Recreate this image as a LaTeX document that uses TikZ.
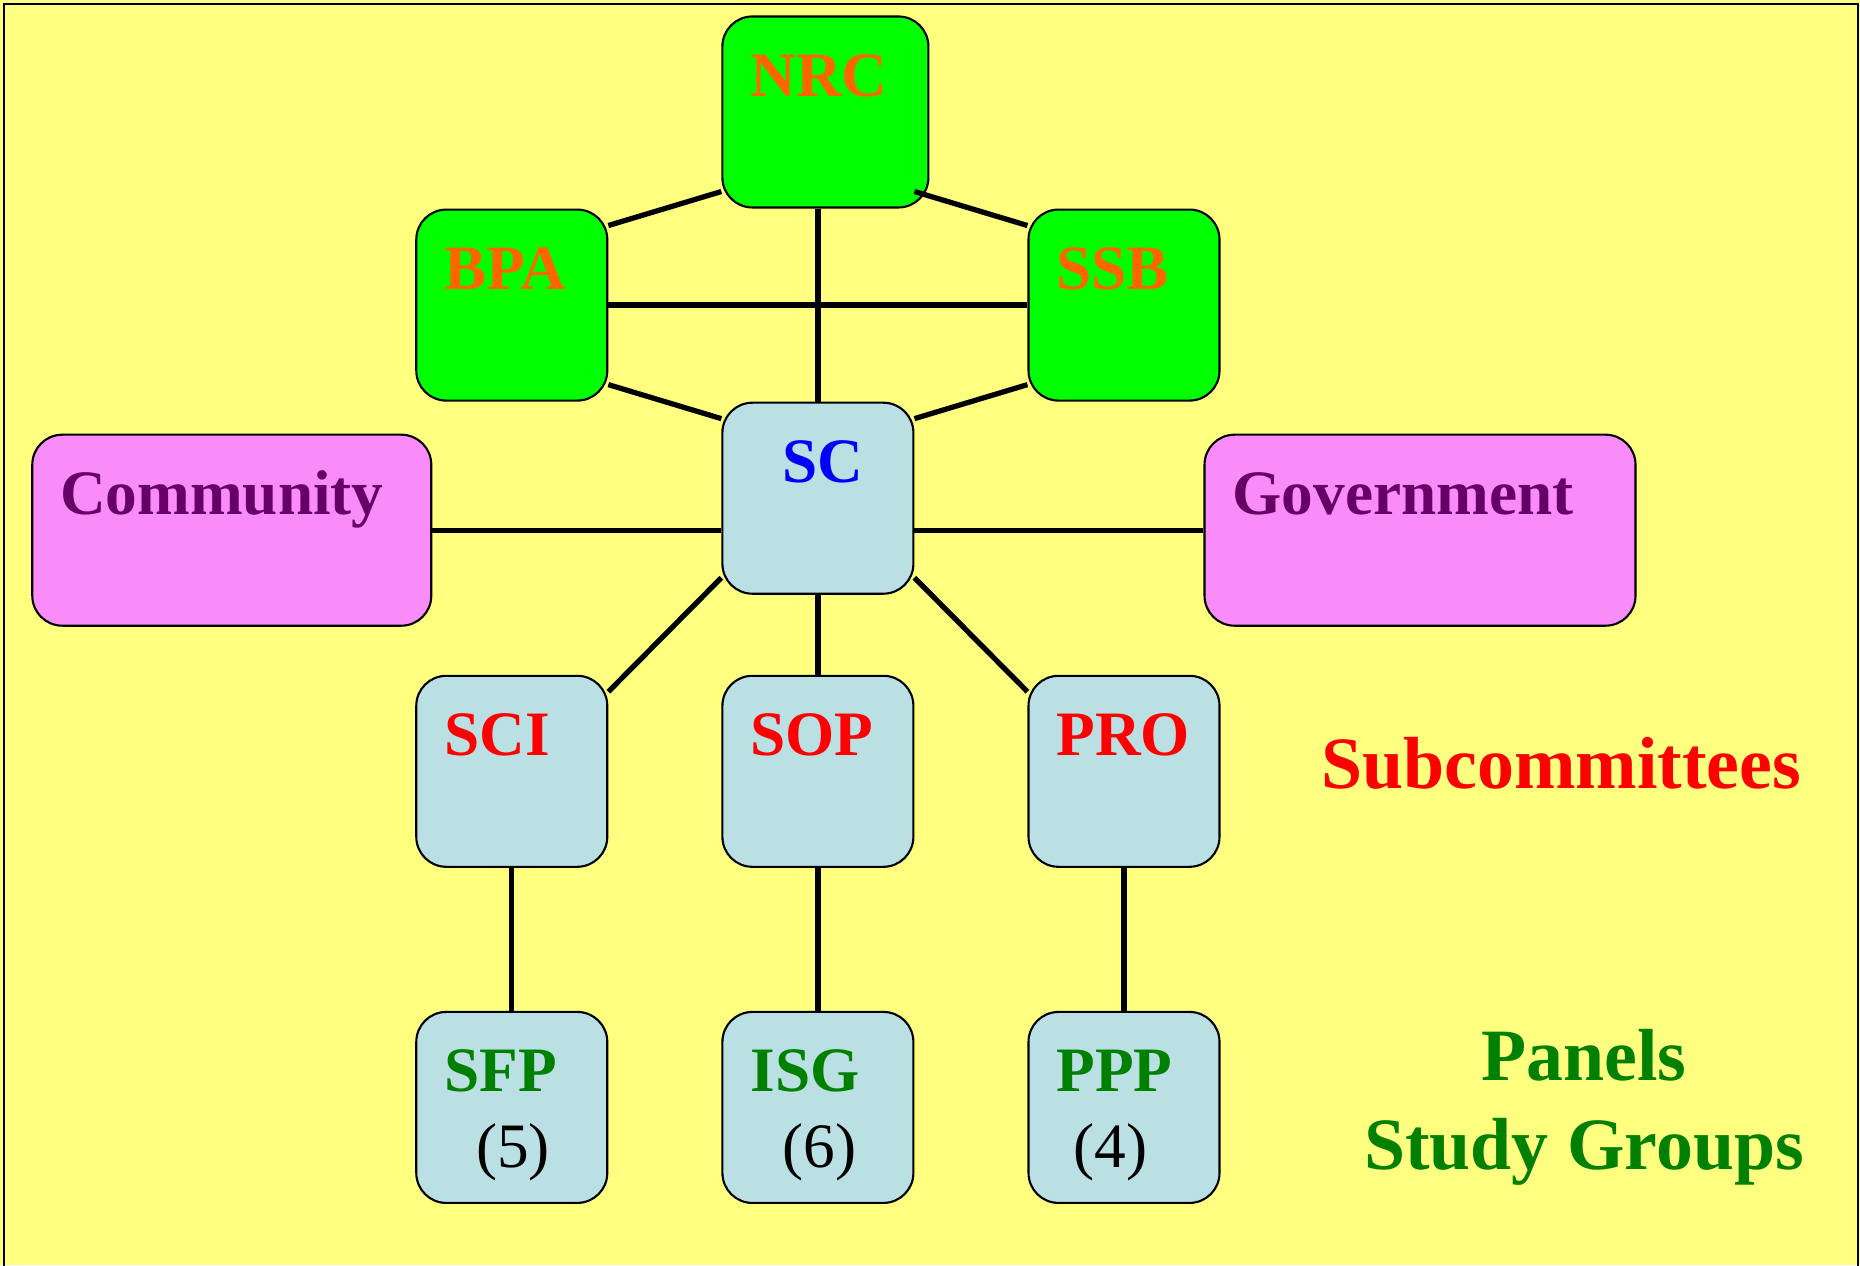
\documentclass[tikz,border=0pt]{standalone}
\usepackage{fontspec}
\setmainfont{Liberation Serif}
\usepackage{xcolor}
\usetikzlibrary{positioning, calc}

\definecolor{bgyellow}{RGB}{255,255,128}
\definecolor{boardgreen}{RGB}{0,255,0}
\definecolor{boardorange}{RGB}{255,102,0}
\definecolor{subblue}{RGB}{187,224,227}
\definecolor{sidepink}{RGB}{250,140,250}
\definecolor{sidepurple}{RGB}{102,0,102}
\definecolor{panelgreen}{RGB}{0,128,0}

\begin{document}
\begin{tikzpicture}[
        node distance=1.13cm,
        org/.style={
            rectangle, rounded corners=3mm, draw=black, line width=0.6pt,
            text width=1.35cm, inner xsep=2.8mm, inner ysep=0pt,
            text height=0.8cm, text depth=1.11cm, align=left,
            font=\fontsize{18}{21.6}\selectfont\bfseries
        },
        board/.style={org, fill=boardgreen, text=boardorange},
        comm/.style={org, fill=subblue, text=red},
        panel/.style={org, fill=subblue, text=panelgreen},
        side/.style={org, fill=sidepink, text=sidepurple},
        link/.style={line width=1.5pt, black},
        tier/.style={font=\fontsize{21}{25.3}\selectfont\bfseries, inner sep=0pt, align=center}
    ]
    % === Frame ===
    \useasboundingbox (-8.179,-7.668) rectangle (10.421,4.982);
    \fill[bgyellow] (-8.179,-7.668) rectangle (10.421,4.982);
    \draw[line width=0.25mm] (-8.14,-7.8) -- (-8.14,4.942) -- (10.40,4.942) -- (10.40,-7.8);

    % === Steering committee ===
    \node[comm, text=blue] (sc) at (0,0) {\hspace*{3.2mm}SC};

    % === Boards ===
    \node[board, above left=0pt and 1.13cm of sc] (bpa) {BPA};
    \node[board, above right=0pt and 1.13cm of sc] (ssb) {SSB};
    \node[board, text width=1.50cm, above right=0pt and 1.13cm of bpa] (nrc) {NRC};

    % === Community / Government ===
    \node[side, text width=3.43cm, left=2.89cm of sc, yshift=-3.2mm] (community) {Community};
    \node[side, text width=3.75cm, right=2.89cm of sc, yshift=-3.2mm] (government) {Government};

    % === Subcommittees ===
    \node[comm, below left=0.80cm and 1.13cm of sc] (sci) {SCI};
    \node[comm, below=0.80cm of sc] (sop) {SOP};
    \node[comm, below right=0.80cm and 1.13cm of sc] (pro) {PRO};

    % === Panels / study groups ===
    \node[panel, below=1.43cm of sci] (sfp) {SFP\\{\mdseries\color{black}\hspace*{3.2mm}(5)}};
    \node[panel, below=1.43cm of sop] (isg) {ISG\\{\mdseries\color{black}\hspace*{3.2mm}(6)}};
    \node[panel, below=1.43cm of pro] (ppp) {PPP\\{\mdseries\color{black}\hspace*{1.7mm}(4)}};

    % === Tier labels ===
    \node[tier, text=red, right=1.0cm of pro, yshift=0.8mm] (subcom) {Subcommittees};
    \node[tier, text=panelgreen, right=1.43cm of ppp] (panels) {Panels\\Study Groups};

    % === Links ===
    \draw[link] ($(nrc.south west)+(0,1.7mm)$) -- ($(bpa.north east)+(0,-1.7mm)$);
    \draw[link] ($(sc.east |- nrc.south)+(0,1.7mm)$) -- ($(ssb.north west)+(0,-1.7mm)$);
    \draw[link] (sc.north) -- (sc.north |- nrc.south);
    \draw[link] (bpa.east) -- (ssb.west);
    \draw[link] ($(bpa.south east)+(0,1.7mm)$) -- ($(sc.north west)+(0,-1.7mm)$);
    \draw[link] ($(ssb.south west)+(0,1.7mm)$) -- ($(sc.north east)+(0,-1.7mm)$);
    \draw[link] (community.east) -- (community.east -| sc.west);
    \draw[link] (government.west) -- (government.west -| sc.east);
    \draw[link] ($(sc.south west)+(0,1.7mm)$) -- ($(sci.north east)+(0,-1.7mm)$);
    \draw[link] (sc.south) -- (sop.north);
    \draw[link] ($(sc.south east)+(0,1.7mm)$) -- ($(pro.north west)+(0,-1.7mm)$);
    \foreach \a/\b in {sci/sfp, sop/isg, pro/ppp}
        \draw[link] (\a.south) -- (\b.north);

\end{tikzpicture}
\end{document}
